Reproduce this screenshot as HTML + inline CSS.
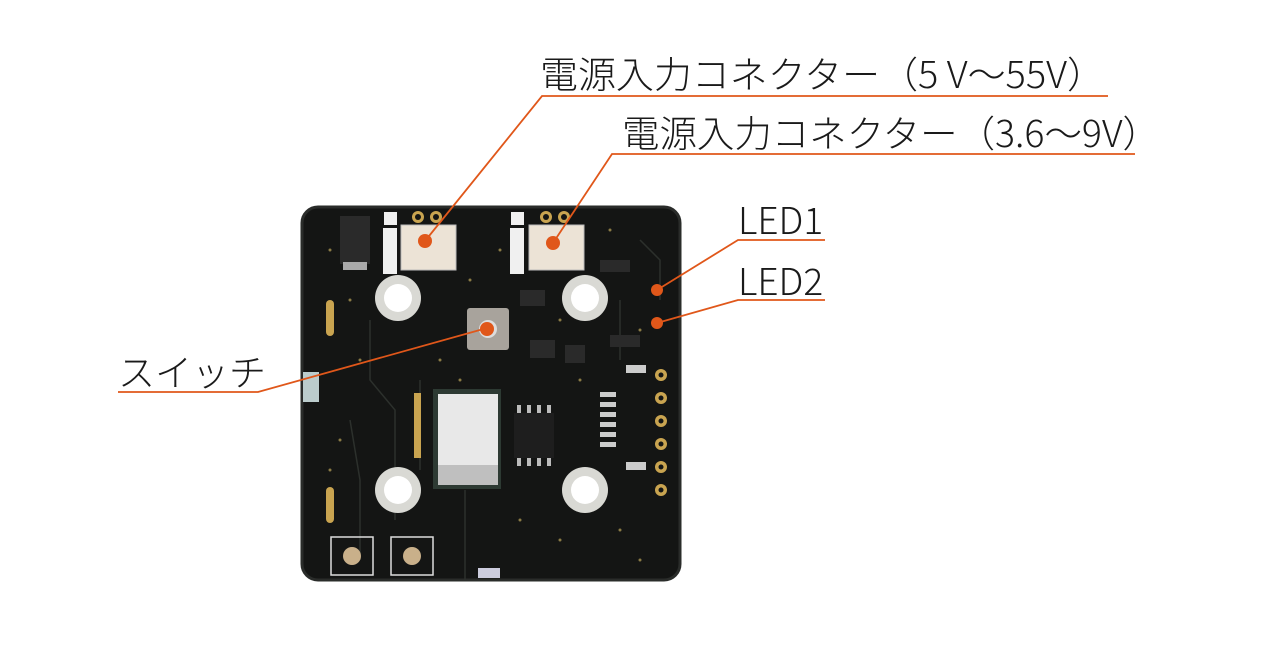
<!DOCTYPE html>
<html><head><meta charset="utf-8"><style>
body{margin:0;background:#fff;}
svg text{font-family:"Noto Sans CJK JP","Liberation Sans",sans-serif;fill:#1a1a1a;font-weight:300;}
</style></head><body>
<svg width="1280" height="640" viewBox="0 0 1280 640" xmlns="http://www.w3.org/2000/svg">
<rect x="302" y="207" width="378" height="373" rx="16" fill="#141514"/>
<rect x="302" y="207" width="378" height="373" rx="16" fill="none" stroke="#2a2c2a" stroke-width="3"/>
<g stroke="#2c302c" stroke-width="1.5" fill="none">
<path d="M370 320 L370 380 L395 410 L395 520"/><path d="M420 380 L420 470"/>
<path d="M640 240 L660 260 L660 300"/><path d="M620 300 L620 360"/>
<path d="M465 490 L465 580"/><path d="M350 420 L360 480 L360 560"/>
</g>
<g fill="#8a7a45">
<circle cx="330" cy="250" r="1.5"/><circle cx="350" cy="300" r="1.5"/><circle cx="440" cy="260" r="1.5"/><circle cx="470" cy="280" r="1.5"/><circle cx="500" cy="250" r="1.5"/><circle cx="520" cy="270" r="1.5"/><circle cx="610" cy="230" r="1.5"/><circle cx="640" cy="330" r="1.5"/><circle cx="440" cy="360" r="1.5"/><circle cx="460" cy="380" r="1.5"/><circle cx="360" cy="360" r="1.5"/><circle cx="340" cy="440" r="1.5"/><circle cx="600" cy="500" r="1.5"/><circle cx="620" cy="530" r="1.5"/><circle cx="560" cy="540" r="1.5"/><circle cx="640" cy="560" r="1.5"/><circle cx="520" cy="520" r="1.5"/><circle cx="580" cy="380" r="1.5"/><circle cx="560" cy="320" r="1.5"/><circle cx="330" cy="470" r="1.5"/>
</g>
<g fill="#d9d9d4"><circle cx="398" cy="298" r="23"/><circle cx="585" cy="298" r="23"/><circle cx="398" cy="490" r="23"/><circle cx="585" cy="490" r="23"/></g>
<g fill="#fff"><circle cx="398" cy="298" r="14"/><circle cx="585" cy="298" r="14"/><circle cx="398" cy="490" r="14"/><circle cx="585" cy="490" r="14"/></g>
<rect x="401" y="225" width="55" height="45" fill="#ece3d6" stroke="#bbb"/>
<rect x="529" y="225" width="55" height="45" fill="#ece3d6" stroke="#bbb"/>
<g fill="#c9a450"><circle cx="418" cy="217" r="6"/><circle cx="436" cy="217" r="6"/><circle cx="546" cy="217" r="6"/><circle cx="564" cy="217" r="6"/></g>
<g fill="#141514"><circle cx="418" cy="217" r="3"/><circle cx="436" cy="217" r="3"/><circle cx="546" cy="217" r="3"/><circle cx="564" cy="217" r="3"/></g>
<rect x="383" y="228" width="14" height="46" fill="#f0f0f0"/><rect x="510" y="228" width="14" height="46" fill="#f0f0f0"/>
<rect x="384" y="212" width="13" height="13" fill="#f0f0f0"/><rect x="511" y="212" width="13" height="13" fill="#f0f0f0"/>
<rect x="340" y="216" width="30" height="48" fill="#2a2a2a"/><rect x="343" y="262" width="24" height="8" fill="#aaa"/>
<rect x="467" y="308" width="42" height="42" rx="3" fill="#a8a39c"/><circle cx="488" cy="329" r="9" fill="#ddd"/>
<rect x="433" y="389" width="68" height="100" fill="#2d3a33"/>
<rect x="438" y="394" width="60" height="80" fill="#e8e8e8"/>
<rect x="438" y="465" width="60" height="20" fill="#bfbfbf"/>
<rect x="514" y="413" width="40" height="45" fill="#1e1e1e"/>
<g fill="#bbb"><rect x="517" y="405" width="4" height="8"/><rect x="527" y="405" width="4" height="8"/><rect x="537" y="405" width="4" height="8"/><rect x="547" y="405" width="4" height="8"/>
<rect x="517" y="458" width="4" height="8"/><rect x="527" y="458" width="4" height="8"/><rect x="537" y="458" width="4" height="8"/><rect x="547" y="458" width="4" height="8"/></g>
<g fill="#ccc"><rect x="600" y="392" width="16" height="5"/><rect x="600" y="402" width="16" height="5"/><rect x="600" y="412" width="16" height="5"/><rect x="600" y="422" width="16" height="5"/><rect x="600" y="432" width="16" height="5"/><rect x="600" y="442" width="16" height="5"/></g>
<g fill="#c9a450"><circle cx="661" cy="375" r="6"/><circle cx="661" cy="398" r="6"/><circle cx="661" cy="421" r="6"/><circle cx="661" cy="444" r="6"/><circle cx="661" cy="467" r="6"/><circle cx="661" cy="490" r="6"/></g>
<g fill="#141514"><circle cx="661" cy="375" r="2.5"/><circle cx="661" cy="398" r="2.5"/><circle cx="661" cy="421" r="2.5"/><circle cx="661" cy="444" r="2.5"/><circle cx="661" cy="467" r="2.5"/><circle cx="661" cy="490" r="2.5"/></g>
<g fill="#c9a450"><rect x="326" y="300" width="8" height="36" rx="4"/><rect x="326" y="487" width="8" height="36" rx="4"/><rect x="414" y="393" width="7" height="65"/></g>
<rect x="331" y="537" width="42" height="38" fill="none" stroke="#ddd" stroke-width="1.5"/>
<rect x="391" y="537" width="42" height="38" fill="none" stroke="#ddd" stroke-width="1.5"/>
<circle cx="352" cy="556" r="9" fill="#c9b08a"/><circle cx="412" cy="556" r="9" fill="#c9b08a"/>
<rect x="478" y="568" width="22" height="10" fill="#ccd"/>
<rect x="303" y="372" width="16" height="30" fill="#bcc"/>
<rect x="626" y="365" width="20" height="8" fill="#ccc"/><rect x="626" y="462" width="20" height="8" fill="#ccc"/>
<g fill="#2a2a2a"><rect x="520" y="290" width="25" height="16"/><rect x="530" y="340" width="25" height="18"/><rect x="565" y="345" width="20" height="18"/><rect x="600" y="260" width="30" height="12"/><rect x="610" y="335" width="30" height="12"/></g>
<g stroke="#e0571a" stroke-width="1.8" fill="none">
<polyline points="1108,96 542,96 425,241"/>
<polyline points="1135,154 612,154 553,243"/>
<polyline points="825,240 738,240 657,290"/>
<polyline points="825,300 738,300 657,323"/>
<polyline points="118,392 258,392 487,328"/>
</g>
<g fill="#e0571a"><circle cx="425" cy="241" r="7"/><circle cx="553" cy="243" r="7"/><circle cx="487" cy="329" r="7"/><circle cx="657" cy="290" r="6"/><circle cx="657" cy="323" r="6"/></g>
<text x="540" y="88" font-size="37" textLength="565" lengthAdjust="spacingAndGlyphs">電源入力コネクター（5 V〜55V）</text>
<text x="622" y="147" font-size="37" textLength="538" lengthAdjust="spacingAndGlyphs">電源入力コネクター（3.6〜9V）</text>
<text x="738" y="234" font-size="37">LED1</text>
<text x="738" y="295" font-size="37">LED2</text>
<text x="118" y="386" font-size="37">スイッチ</text>
</svg>
</body></html>
